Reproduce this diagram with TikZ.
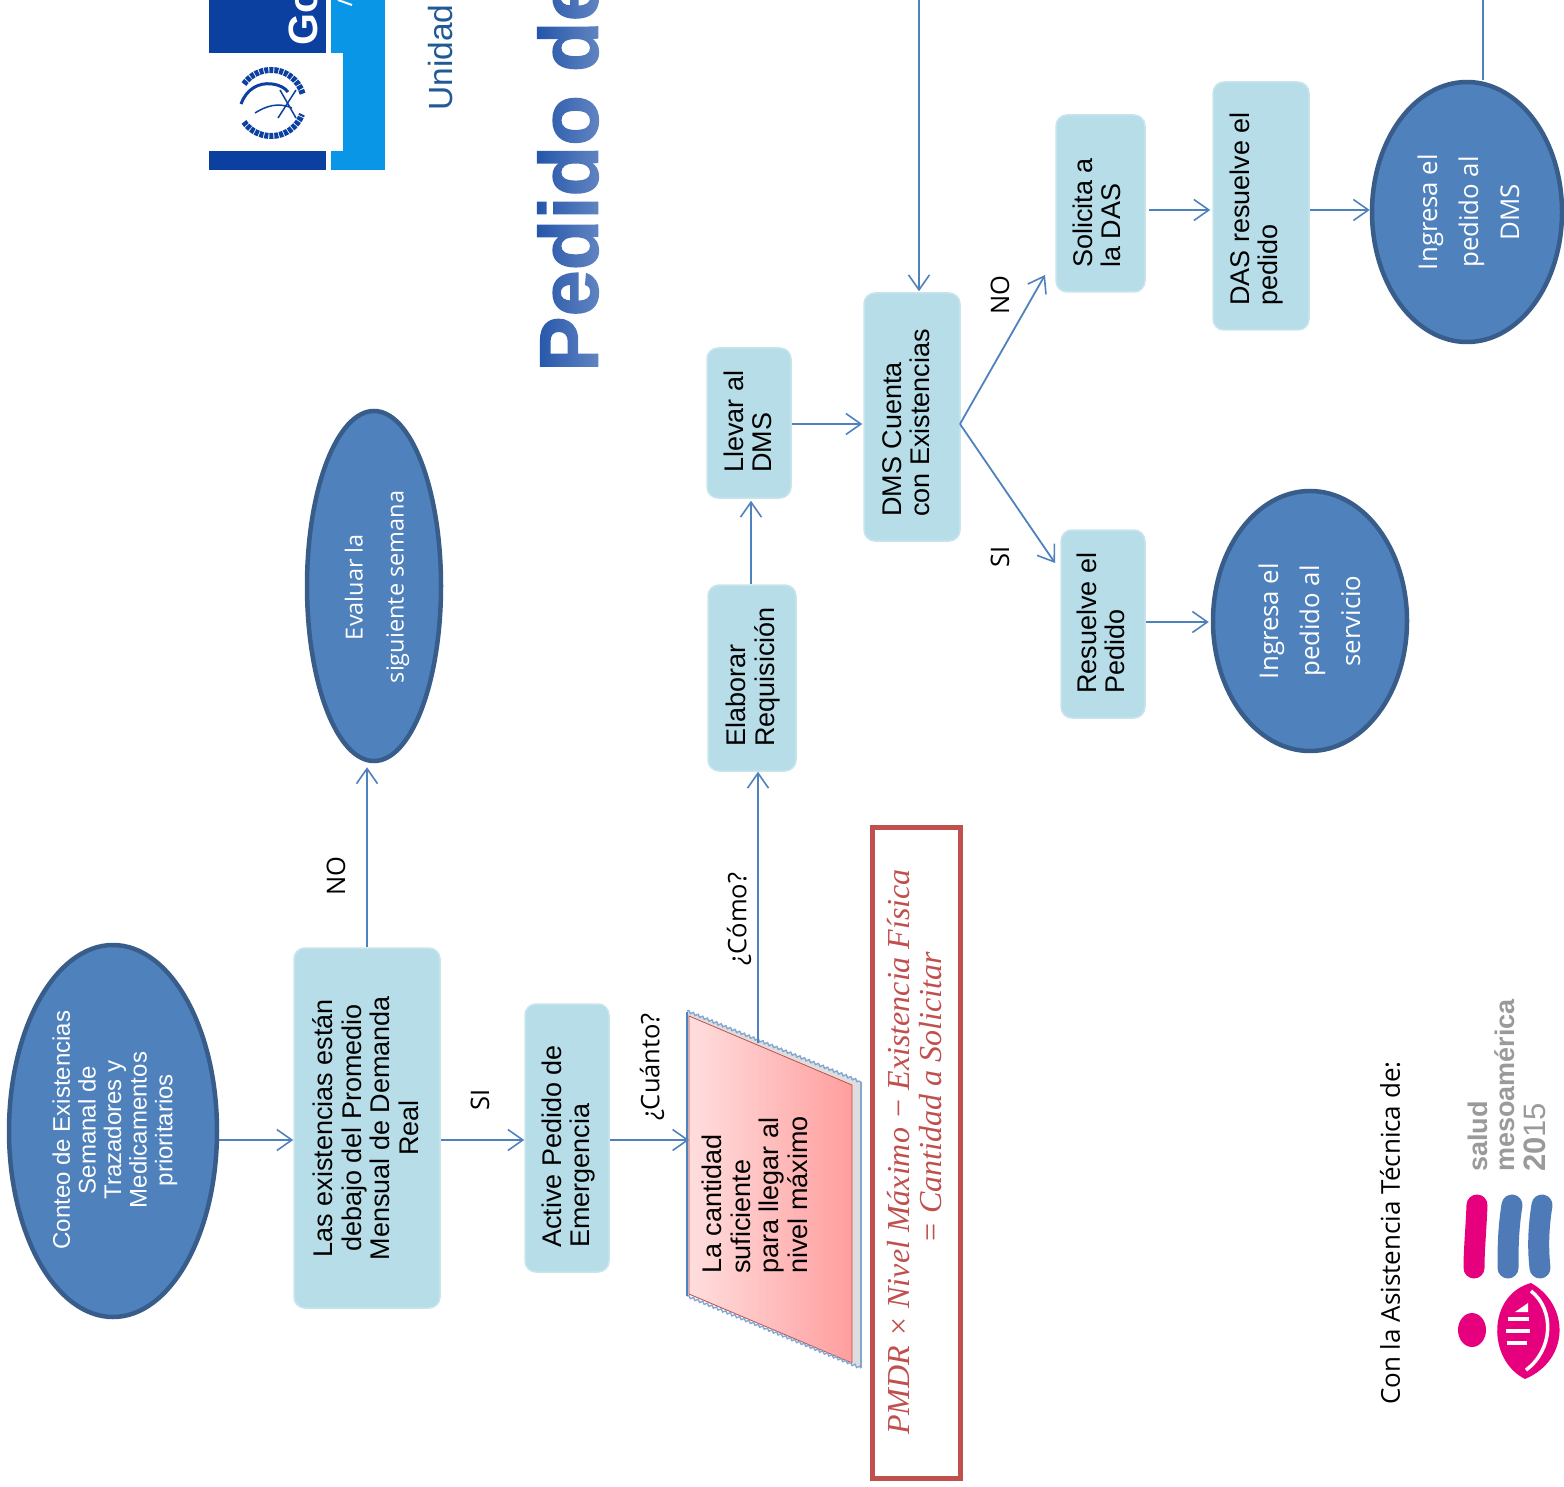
\documentclass[tikz,border=0pt]{standalone}
\usepackage{fontspec}
\setmainfont{Liberation Sans}
\newfontfamily\osans{Open Sans}
\newfontfamily\formfont{Liberation Serif}
\newfontfamily\titlefont[FakeBold=1.6]{Liberation Sans Bold}
\usetikzlibrary{arrows.meta,shapes.geometric,decorations.pathmorphing,fadings}
\definecolor{bluearrow}{HTML}{4F81BD}
\definecolor{ellfill}{HTML}{4F81BD}
\definecolor{elldraw}{HTML}{385D8A}
\definecolor{boxfill}{HTML}{B7DDE8}
\definecolor{boxdraw}{HTML}{C8E5EE}
\definecolor{redbox}{HTML}{C0504D}
\definecolor{titleblue}{HTML}{003A9C}
\definecolor{unidad}{HTML}{1F5A96}
\definecolor{logodark}{HTML}{0B3FA0}
\definecolor{logolight}{HTML}{0A96E6}
\definecolor{logopink}{HTML}{E6007E}
\definecolor{logoblue}{HTML}{4F7AB8}
\definecolor{logogray}{HTML}{9A9A9A}
\tikzfading[name=titlefade,left color=transparent!88,middle color=transparent!100,right color=transparent!60]
\newcommand{\clines}[1]{\begin{tabular}{@{}c@{}}#1\end{tabular}}
\newcommand{\llines}[1]{\begin{tabular}{@{}l@{}}#1\end{tabular}}
\tikzset{
  ell/.style={ellipse,draw=elldraw,fill=ellfill,line width=4.5pt,inner sep=0pt},
  box/.style={rectangle,rounded corners=11pt,draw=boxdraw,fill=boxfill,line width=1.5pt,inner sep=0pt},
  arr/.style={draw=bluearrow,line width=1.8pt,-{Straight Barb[length=15pt,width=21pt,line width=1.6pt]}},
  plain/.style={draw=bluearrow,line width=1.8pt},
  txt/.style={rotate=90,inner sep=0pt,font=\fontsize{27}{28.5}\selectfont,text=black},
  etxt/.style={rotate=90,inner sep=0pt,font=\osans\fontsize{25.8}{41}\selectfont,text=white},
  lab/.style={rotate=90,inner sep=0pt,font=\osans\fontsize{25.5}{28}\selectfont,text=black},
  lbltxt/.style={rotate=90,anchor=west,inner sep=0pt},
}
\begin{document}
\begin{tikzpicture}[x=1pt,y=-1pt]
\useasboundingbox (0,0) rectangle (1564,1487);
\clip (0,0) rectangle (1564,1487);
% header logo
\fill[logodark] (209,0) rectangle (326,170);
\fill[logolight] (331,0) rectangle (385,170);
\fill[white] (197,53) rectangle (343,151);
\node[lbltxt,text=white,font=\bfseries\fontsize{41}{41}\selectfont] (go) at (303,46) {Go};
\draw[white,line width=2pt] (338,0) -- (352,5);
\begin{scope}[draw=logodark]
 \draw[line width=6pt,dash pattern=on 4pt off 1pt] ([shift={(215:33)}]271,103) arc[start angle=215,end angle=345,radius=33];
 \draw[line width=6pt,dash pattern=on 4pt off 1pt] ([shift={(145:33)}]271,103) arc[start angle=145,end angle=20,radius=33];
 \draw[line width=3pt] (241,104) .. controls (246,90) and (258,82) .. (272,84) .. controls (280,85) and (285,88) .. (288,92);
 \draw[line width=1.5pt] (255,113) .. controls (266,106) and (278,102) .. (292,108);
 \draw[line width=1.5pt] (280,90) -- (296,118);
 \draw[line width=1.5pt] (296,90) -- (278,118);
\end{scope}
\node[lbltxt,text=unidad,font=\fontsize{33.5}{34}\selectfont] (unidad) at (441,111) {Unidad};
\node[lbltxt,text=titleblue,font=\titlefont\fontsize{83}{83}\selectfont] (title) at (568,372) {Pedido de};
\fill[white,path fading=titlefade] (530,-2) rectangle (604,374);
% coordinates
\coordinate (r1) at (0,1140);
\coordinate (r2) at (0,424);
\coordinate (r3) at (0,210);
\coordinate (r4) at (0,622);
\coordinate (fork) at (960,424);
\coordinate (toNo) at (1045,275);
\coordinate (toSi) at (1055,563);
\coordinate (topA) at (919,0);
\coordinate (topB) at (1483,0);
\coordinate (paraW) at (689,1140);
\coordinate (paraN) at (758,1043);
% shapes
\node[ell,minimum width=208pt,minimum height=372pt] (conteo) at (113,1131) {};
\node[box,minimum width=146pt,minimum height=360pt] (las) at (367,1128) {};
\node[ell,minimum width=134pt,minimum height=350pt] (evaluar) at (374,586) {};
\node[box,minimum width=84pt,minimum height=268pt] (active) at (567,1138) {};
\node[box,minimum width=88pt,minimum height=186pt] (elab) at (752,678) {};
\node[box,minimum width=84pt,minimum height=150pt] (llevar) at (749,423) {};
\node[box,minimum width=96pt,minimum height=248pt] (dms) at (912,417) {};
\node[box,minimum width=89pt,minimum height=177pt] (solic) at (1100.5,203.5) {};
\node[box,minimum width=96pt,minimum height=248pt] (das) at (1261,206) {};
\node[ell,minimum width=190pt,minimum height=260pt] (ingdms) at (1467,212) {};
\node[box,minimum width=84pt,minimum height=188pt] (resuel) at (1103,624) {};
\node[ell,minimum width=194pt,minimum height=260pt] (ingserv) at (1310,621) {};
% bevelled parallelogram
\fill[black!13] (687,1011) -- (861,1082) -- (861,1367) -- (687,1294) -- cycle;
\shade[left color=red!13,right color=red!38,draw=redbox,line width=.8pt] (689,1016) -- (852,1085) -- (852,1363) -- (689,1294) -- cycle;
\draw[draw=bluearrow!70,line width=1.4pt,decorate,decoration={snake,segment length=5pt,amplitude=1.2pt}] (687,1011) -- (861,1082);
\draw[draw=bluearrow!70,line width=1.4pt,decorate,decoration={snake,segment length=5pt,amplitude=1.2pt}] (687,1296) -- (861,1368);
\draw[draw=bluearrow!70,line width=1.4pt] (861,1082) -- (861,1368);
\draw[draw=bluearrow,line width=2pt] (687,1012) -- (687,1296);
% red formula box
\node[rectangle,draw=redbox,line width=5pt,fill=white,minimum width=88pt,minimum height=651pt,inner sep=0pt] (formula) at (916,1152.5) {};
% texts
\node[txt,font=\fontsize{24}{25.6}\selectfont,text=white] (conteoT) at (116,1130) {\clines{Conteo de Existencias\\Semanal de\\Trazadores y\\Medicamentos\\prioritarios}};
\node[txt,anchor=center] (lasT) at (370,1128) {\clines{Las existencias están\\debajo del Promedio\\Mensual de Demanda\\Real}};
\node[etxt,font=\osans\fontsize{23.5}{41}\selectfont] (evaluarT) at (375,587) {\clines{Evaluar la\\siguiente semana}};
\node[txt,anchor=west] (activeT) at (570,1248) {\llines{Active Pedido de\\Emergencia}};
\node[txt,anchor=west] (paraT) at (759,1274) {\llines{La cantidad\\suficiente\\para llegar al\\nivel máximo}};
\node[txt,anchor=west] (elabT) at (754.5,747) {\llines{Elaborar\\Requisición}};
\node[txt,anchor=west] (llevarT) at (752,473) {\llines{Llevar al\\DMS}};
\node[txt,anchor=west] (dmsT) at (910,517) {\llines{DMS Cuenta\\con Existencias}};
\node[txt,anchor=west] (solicT) at (1101,268) {\llines{Solicita a\\la DAS}};
\node[txt,anchor=west] (dasT) at (1258,306) {\llines{DAS resuelve el\\pedido}};
\node[txt,anchor=west] (resuelT) at (1105,694) {\llines{Resuelve el\\Pedido}};
\node[etxt] (ingdmsT) at (1470,212) {\clines{Ingresa el\\pedido al\\DMS}};
\node[etxt] (ingservT) at (1311,621) {\clines{Ingresa el\\pedido al\\servicio}};
\node[rotate=90,inner sep=0pt,text=redbox,font=\formfont\itshape\fontsize{32}{32}\selectfont] (formulaT) at (919,1152) {\clines{PMDR  × Nivel Máximo − Existencia Física\\\hspace*{108pt}= Cantidad a Solicitar}};
% labels
\node[lab] (no1) at (336,876) {NO};
\node[lab] (si1) at (480,1100) {SI};
\node[lab] (cuanto) at (652,1067) {¿Cuánto?};
\node[lab] (como) at (739,919) {¿Cómo?};
\node[lab] (no2) at (1000,295) {NO};
\node[lab] (si2) at (1000,557) {SI};
% connectors
\draw[arr] (conteo.east |- r1) -- (las.west |- r1);
\draw[arr] (las.north) -- ([yshift=-4pt]las.north |- evaluar.south);
\draw[arr] (las.east |- r1) -- (active.west |- r1);
\draw[arr] (active.east |- r1) -- (paraW);
\draw[arr] (paraN) -- (paraN |- elab.south);
\draw[arr] ([xshift=2pt]llevar.south |- elab.north) -- ([xshift=2pt,yshift=-2pt]llevar.south);
\draw[arr] (llevar.east |- r2) -- ([xshift=-1pt]dms.west |- r2);
\draw[arr] (topA) -- ([yshift=1pt]topA |- dms.north);
\draw[arr] (fork) -- (toNo);
\draw[arr] (fork) -- (toSi);
\draw[arr] ([xshift=3pt]solic.east |- r3) -- ([xshift=-2pt]das.west |- r3);
\draw[arr] (das.east |- r3) -- (ingdms.west |- r3);
\draw[plain] (topB) -- (topB |- ingdms.north);
\draw[arr] (resuel.east |- r4) -- ([xshift=-2pt]ingserv.west |- r4);
% bottom credit
\node[lbltxt,font=\osans\fontsize{26}{28}\selectfont] (credit) at (1390,1405) {Con la Asistencia Técnica de:};
\node[lbltxt,text=logogray,font=\bfseries\fontsize{27}{27}\selectfont] (salud) at (1478,1172) {salud};
\node[lbltxt,text=logogray,font=\bfseries\fontsize{27}{27}\selectfont] (meso) at (1505,1172) {mesoamérica};
\node[lbltxt,text=logogray,font=\fontsize{31}{31}\selectfont] (year) at (1535,1172) {\textbf{20}15};
\draw[logopink,line width=21pt,line cap=round] (1477,1205) .. controls (1476,1230) and (1474,1250) .. (1474,1268);
\draw[logoblue,line width=21pt,line cap=round] (1512,1205) .. controls (1508,1230) and (1508,1250) .. (1508,1268);
\draw[logoblue,line width=21pt,line cap=round] (1542,1205) .. controls (1538,1230) and (1538,1250) .. (1540,1268);
\fill[logopink] (1472,1330) ellipse[x radius=14,y radius=17];
\fill[logopink] (1531,1283) .. controls (1487,1295) and (1487,1360) .. (1525,1379) .. controls (1570,1360) and (1570,1305) .. (1531,1283) -- cycle;
\draw[white,line width=3.5pt] (1531,1291) .. controls (1555,1310) and (1553,1350) .. (1526,1370);
\draw[white,line width=3.5pt] (1508,1319) -- (1529,1319);
\draw[white,line width=3.5pt] (1506,1331) -- (1530,1331);
\draw[white,line width=3.5pt] (1507,1343) -- (1527,1343);
\fill[white] (1515,1312) -- (1528,1303) -- (1528,1312) -- cycle;
\end{tikzpicture}
\end{document}
